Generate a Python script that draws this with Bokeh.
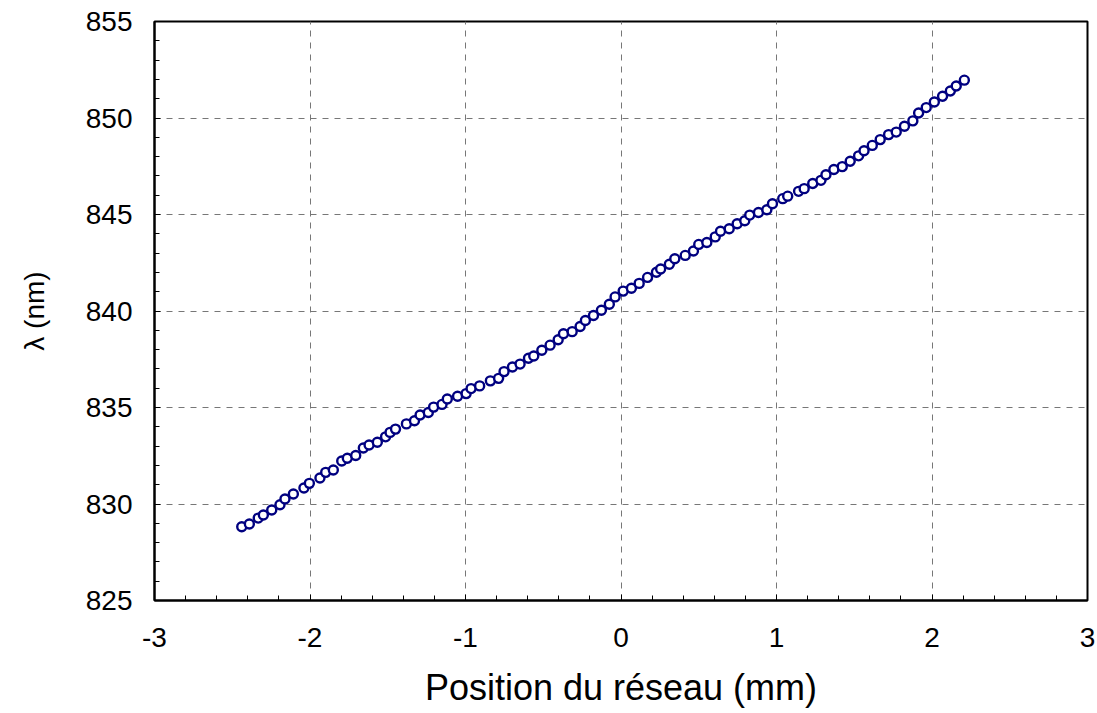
from bokeh.plotting import figure
from bokeh.models import SingleIntervalTicker, Range1d
from bokeh.embed import file_html
from bokeh.resources import INLINE

# Data
position_mm = [
    -2.439, -2.390, -2.333, -2.300, -2.246, -2.193, -2.161, -2.107, -2.039, -2.004,
    -1.936, -1.899, -1.850, -1.796, -1.760, -1.706, -1.657, -1.620, -1.567, -1.514,
    -1.485, -1.450, -1.380, -1.328, -1.292, -1.239, -1.205, -1.151, -1.117, -1.051,
    -0.996, -0.964, -0.909, -0.840, -0.787, -0.752, -0.698, -0.649, -0.595, -0.561,
    -0.509, -0.456, -0.404, -0.370, -0.314, -0.263, -0.229, -0.177, -0.126, -0.075,
    -0.038, 0.014, 0.067, 0.117, 0.171, 0.228, 0.255, 0.311, 0.346, 0.413,
    0.466, 0.500, 0.552, 0.606, 0.640, 0.696, 0.747, 0.796, 0.828, 0.884,
    0.938, 0.974, 1.040, 1.072, 1.142, 1.178, 1.233, 1.286, 1.318, 1.369,
    1.423, 1.474, 1.528, 1.563, 1.616, 1.667, 1.721, 1.770, 1.823, 1.877,
    1.914, 1.963, 2.015, 2.068, 2.118, 2.156, 2.208,
]
wavelength_nm = [
    828.82, 828.96, 829.27, 829.43, 829.69, 829.96, 830.26, 830.52, 830.83, 831.07,
    831.35, 831.64, 831.76, 832.23, 832.37, 832.51, 832.90, 833.06, 833.20, 833.48,
    833.71, 833.88, 834.15, 834.31, 834.61, 834.74, 835.02, 835.16, 835.44, 835.58,
    835.72, 835.98, 836.12, 836.38, 836.51, 836.86, 837.10, 837.25, 837.55, 837.67,
    837.97, 838.23, 838.51, 838.82, 838.93, 839.20, 839.51, 839.77, 840.04, 840.35,
    840.73, 841.03, 841.18, 841.43, 841.74, 842.01, 842.18, 842.42, 842.71, 842.88,
    843.11, 843.45, 843.55, 843.84, 844.13, 844.26, 844.52, 844.68, 844.97, 845.10,
    845.25, 845.56, 845.82, 845.95, 846.20, 846.34, 846.61, 846.77, 847.06, 847.33,
    847.48, 847.76, 848.04, 848.30, 848.58, 848.88, 849.14, 849.27, 849.57, 849.85,
    850.26, 850.54, 850.83, 851.13, 851.40, 851.66, 851.96,
]
x_ticks = [-3, -2, -1, 0, 1, 2, 3]
x_tick_labels = ["-3", "-2", "-1", "0", "1", "2", "3"]
y_ticks = [825, 830, 835, 840, 845, 850, 855]
y_tick_labels = ["825", "830", "835", "840", "845", "850", "855"]
x_label = "Position du réseau (mm)"
y_label = "λ (nm)"

FONT = "Liberation Sans"

p = figure(
    width=1095, height=710,
    x_range=Range1d(x_ticks[0], x_ticks[-1]),
    y_range=Range1d(y_ticks[0], y_ticks[-1]),
    output_backend="svg", toolbar_location=None,
    min_border_left=154, min_border_right=8,
    min_border_top=21, min_border_bottom=109,
)
p.background_fill_color = "white"
p.border_fill_color = "white"
p.outline_line_color = "black"
p.outline_line_width = 2

p.xaxis.ticker = SingleIntervalTicker(interval=1, num_minor_ticks=5)
p.yaxis.ticker = SingleIntervalTicker(interval=5, num_minor_ticks=5)
p.xaxis.major_label_overrides = {t: l for t, l in zip(x_ticks, x_tick_labels)}
p.yaxis.major_label_overrides = {t: l for t, l in zip(y_ticks, y_tick_labels)}

for ax in (p.xaxis, p.yaxis):
    ax.axis_line_color = "black"
    ax.axis_line_width = 2
    ax.major_tick_line_color = "black"
    ax.minor_tick_line_color = "black"
    ax.major_tick_line_width = 1
    ax.minor_tick_line_width = 1
    ax.major_tick_in = 6
    ax.major_tick_out = 0
    ax.minor_tick_in = 5
    ax.minor_tick_out = 0
    ax.major_label_text_font = FONT
    ax.major_label_text_font_size = "28px"
    ax.major_label_text_color = "black"
    ax.axis_label_text_font = FONT
    ax.axis_label_text_font_style = "normal"
    ax.axis_label_text_color = "black"

p.xaxis.axis_label = x_label
p.xaxis.axis_label_text_font_size = "36px"
p.xaxis.major_label_standoff = 27
p.xaxis.axis_label_standoff = 17

p.yaxis.axis_label = y_label
p.yaxis.axis_label_text_font_size = "28px"
p.yaxis.major_label_standoff = 22
p.yaxis.axis_label_standoff = 33

p.grid.grid_line_color = "#777777"
p.grid.grid_line_dash = "6 6"
p.grid.grid_line_width = 1
p.xgrid.ticker = p.xaxis.ticker
p.ygrid.ticker = p.yaxis.ticker

p.scatter(position_mm, wavelength_nm, marker="circle", size=9,
          line_color="#000080", line_width=2.4, fill_color="white")

open("out.html", "w").write(file_html(p, INLINE))
